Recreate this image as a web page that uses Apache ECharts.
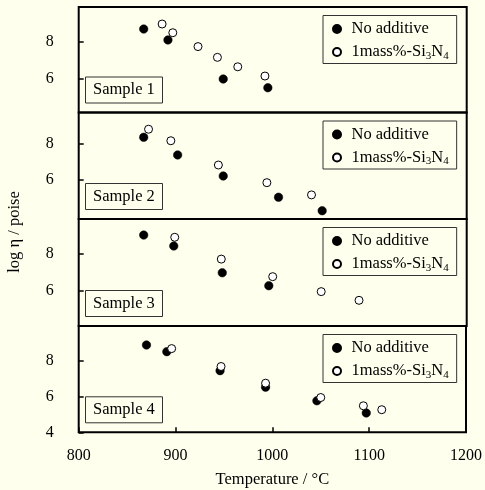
<!DOCTYPE html>
<html>
<head>
<meta charset="utf-8">
<script src="https://cdn.jsdelivr.net/npm/echarts@6/dist/echarts.min.js"></script>
<style>
html,body{margin:0;padding:0;background:#FFFFEE;}
#c{width:485px;height:490px;}
</style>
</head>
<body>
<div id="c"></div>
<script>
// ---- data (temperature °C, log viscosity) ----
var sampleNames = ['Sample 1', 'Sample 2', 'Sample 3', 'Sample 4'];
var seriesNames = ['No additive', '1mass%-Si3N4'];
var xTicks = [800, 900, 1000, 1100, 1200];

var s1NoAdd = [[867, 8.70], [892, 8.11], [949, 6.00], [995, 5.53]];
var s1Si3N4 = [[886, 8.97], [897, 8.50], [923, 7.75], [943, 7.17], [964, 6.66], [992, 6.16]];

var s2NoAdd = [[867, 8.37], [902, 7.39], [949, 6.22], [1006, 5.04], [1051, 4.29]];
var s2Si3N4 = [[872, 8.82], [895, 8.18], [944, 6.83], [994, 5.85], [1040, 5.17]];

var s3NoAdd = [[867, 9.01], [898, 8.42], [948, 6.97], [996, 6.27]];
var s3Si3N4 = [[899, 8.89], [947, 7.71], [1000, 6.76], [1050, 5.95], [1089, 5.48]];

var s4NoAdd = [[870, 8.87], [891, 8.50], [946, 7.44], [993, 6.52], [1046, 5.76], [1097, 5.08]];
var s4Si3N4 = [[896, 8.67], [947, 7.67], [993, 6.74], [1050, 5.94], [1094, 5.48], [1113, 5.26]];

var yTicksUpper = [6, 8];
var yTicksBottom = [4, 6, 8];

var noAddData = [s1NoAdd, s2NoAdd, s3NoAdd, s4NoAdd];
var siData = [s1Si3N4, s2Si3N4, s3Si3N4, s4Si3N4];

// ---- layout ----
var panels = [
  {top: 7,     bottom: 112.5, min: 4.19, max: 9.89},
  {top: 112.5, bottom: 219,   min: 3.83, max: 9.75},
  {top: 219,   bottom: 326,   min: 4.09, max: 9.88},
  {top: 326,   bottom: 432.3, min: 4.00, max: 9.93}
];
var H = 490, L = 78.7, R = 18.3;
var FONT = '"Liberation Serif", "Times New Roman", serif';

var grids = [], xAxes = [], yAxes = [], series = [], legends = [], titles = [];
panels.forEach(function (p, i) {
  var last = i === panels.length - 1;
  grids.push({left: L, right: R, top: p.top, bottom: H - p.bottom,
    show: true, borderColor: '#000', borderWidth: 2, backgroundColor: 'transparent', containLabel: false});
  xAxes.push({
    type: 'value', gridIndex: i, min: 800, max: 1200, interval: 100,
    axisLine: {show: false},
    splitLine: {show: false},
    axisTick: {show: last, inside: true, length: 5, lineStyle: {color: '#000', width: 1.5}},
    axisLabel: {show: last, margin: 15, color: '#000', fontFamily: FONT, fontSize: 16,
      customValues: xTicks, formatter: function (v) { return String(v); }},
    name: last ? 'Temperature / °C' : '',
    nameLocation: 'middle', nameGap: 39,
    nameTextStyle: {color: '#000', fontFamily: FONT, fontSize: 16.5}
  });
  var yt = last ? yTicksBottom : yTicksUpper;
  yAxes.push({
    type: 'value', gridIndex: i, min: p.min, max: p.max,
    axisLine: {show: false},
    splitLine: {show: false},
    axisTick: {show: true, inside: true, length: 5, lineStyle: {color: '#000', width: 1.5}, customValues: yt},
    axisLabel: {show: true, margin: 25, color: '#000', fontFamily: FONT, fontSize: 16, customValues: yt}
  });
  series.push({
    name: seriesNames[0], type: 'scatter', xAxisIndex: i, yAxisIndex: i,
    data: noAddData[i], symbol: 'circle', symbolSize: 8.5,
    itemStyle: {color: '#000', borderColor: '#000', borderWidth: 0.5, opacity: 1}, clip: false
  });
  series.push({
    name: seriesNames[1], type: 'scatter', xAxisIndex: i, yAxisIndex: i,
    data: siData[i], symbol: 'circle', symbolSize: 8,
    itemStyle: {color: '#fff', borderColor: '#000', borderWidth: 1, opacity: 1}, clip: false
  });
  legends.push({
    orient: 'vertical', left: 323, top: p.top + 8.5,
    data: seriesNames, icon: 'circle', itemWidth: 19, itemHeight: 8, itemGap: 6,
    selectedMode: false,
    backgroundColor: '#FFFFEE', borderColor: '#333', borderWidth: 1,
    padding: [5, 8, 2, 9],
    formatter: function (name) {
      return name === 'No additive' ? '{n|No additive}' : '{n|1mass%-Si}{sub|3}{n|N}{sub|4}';
    },
    textStyle: {color: '#000', fontFamily: FONT, fontSize: 16.5,
      rich: {
        n: {fontFamily: FONT, fontSize: 16.5, color: '#000', lineHeight: 19, verticalAlign: 'middle'},
        sub: {fontFamily: FONT, fontSize: 11, color: '#000', lineHeight: 19, verticalAlign: 'bottom'}
      }}
  });
  titles.push({
    text: sampleNames[i], left: 85.5, top: p.bottom - 9 - 27,
    padding: [4, 8, 4, 7.5],
    borderColor: '#333', borderWidth: 1, backgroundColor: '#FFFFEE',
    textStyle: {color: '#000', fontFamily: FONT, fontSize: 16.5, fontWeight: 'normal', lineHeight: 19}
  });
});

var chart = echarts.init(document.getElementById('c'), null, {renderer: 'canvas'});
chart.setOption({
  backgroundColor: '#FFFFEE',
  animation: false,
  title: titles,
  legend: legends,
  grid: grids,
  xAxis: xAxes,
  yAxis: yAxes,
  series: series,
  graphic: [{
    type: 'text', x: 15, y: 232, rotation: Math.PI / 2,
    style: {text: 'log η / poise', fill: '#000', font: '16.5px ' + FONT, align: 'center', verticalAlign: 'middle'}
  }]
});
</script>
</body>
</html>
